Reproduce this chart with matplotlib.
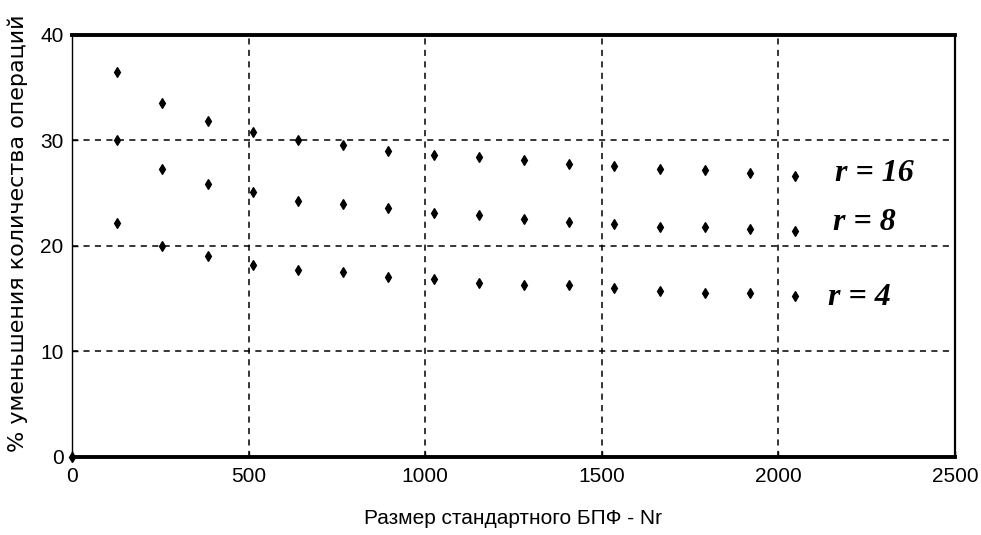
import numpy as np
import matplotlib
matplotlib.use("Agg")
import matplotlib.pyplot as plt

# FFT sizes (multiples of 128) and percentage reduction of operations per radix r
fft_sizes = [128, 256, 384, 512, 640, 768, 896, 1024, 1152, 1280, 1408, 1536,
             1664, 1792, 1920, 2048]
r16 = [36.5, 33.5, 31.8, 30.8, 30.0, 29.6, 29.0, 28.6, 28.4, 28.1, 27.8, 27.6,
       27.3, 27.15, 26.9, 26.6]
r8 = [30.0, 27.3, 25.9, 25.1, 24.3, 24.0, 23.6, 23.1, 22.9, 22.6, 22.3, 22.1,
      21.8, 21.8, 21.6, 21.45]
r4 = [22.2, 20.0, 19.0, 18.2, 17.7, 17.5, 17.1, 16.85, 16.5, 16.3, 16.3, 16.0,
      15.7, 15.5, 15.5, 15.3]
origin_x = [0]
origin_y = [0]

series_labels = ["r = 16", "r = 8", "r = 4"]
label_pos = [(2160, 26.9), (2155, 22.2), (2140, 15.1)]

x_ticks = [0, 500, 1000, 1500, 2000, 2500]
y_ticks = [0, 10, 20, 30, 40]

tick_font = ["Liberation Sans", "DejaVu Sans"]

fig = plt.figure(figsize=(9.81, 5.35), dpi=100)
ax = fig.add_axes([0.0734, 0.1458, 0.900, 0.789])

for ys in (r16, r8, r4):
    ax.plot(fft_sizes, ys, linestyle="none", marker="d", markersize=5.5,
            color="black", markeredgewidth=0.9)
ax.plot(origin_x, origin_y, linestyle="none", marker="d", markersize=5,
        color="black", clip_on=False)

ax.set_xlim(0, 2500)
ax.set_ylim(0, 40)
ax.set_xticks(x_ticks)
ax.set_yticks(y_ticks)
ax.set_xticklabels([str(t) for t in x_ticks], family=tick_font, fontsize=15)
ax.set_yticklabels([str(t) for t in y_ticks], family=tick_font, fontsize=15)
ax.tick_params(direction="in", length=4, width=1, colors="black")
ax.tick_params(axis="x", pad=7)
ax.tick_params(axis="y", pad=6)

ax.grid(True, color="black", linestyle=(0, (4, 3.5)), linewidth=1.1)
ax.set_axisbelow(True)

ax.spines["left"].set_linewidth(1.0)
ax.spines["right"].set_linewidth(1.6)
ax.spines["top"].set_linewidth(2.8)
ax.spines["bottom"].set_linewidth(2.8)

for text, (tx, ty) in zip(series_labels, label_pos):
    ax.text(tx, ty, text, family="Liberation Serif", fontstyle="italic",
            fontweight="bold", fontsize=23, va="center", ha="left")

ax.set_xlabel("Размер стандартного БПФ - Nr", family=tick_font, fontsize=15)
ax.xaxis.set_label_coords(0.5, -0.145)
ax.xaxis.label.set_va("center")

ax.set_ylabel("% уменьшения количества операций", family="DejaVu Sans",
              fontsize=16)
ax.yaxis.set_label_coords(-0.062, 0.53)
ax.yaxis.label.set_va("center")

fig.savefig("out.png", dpi=100)
